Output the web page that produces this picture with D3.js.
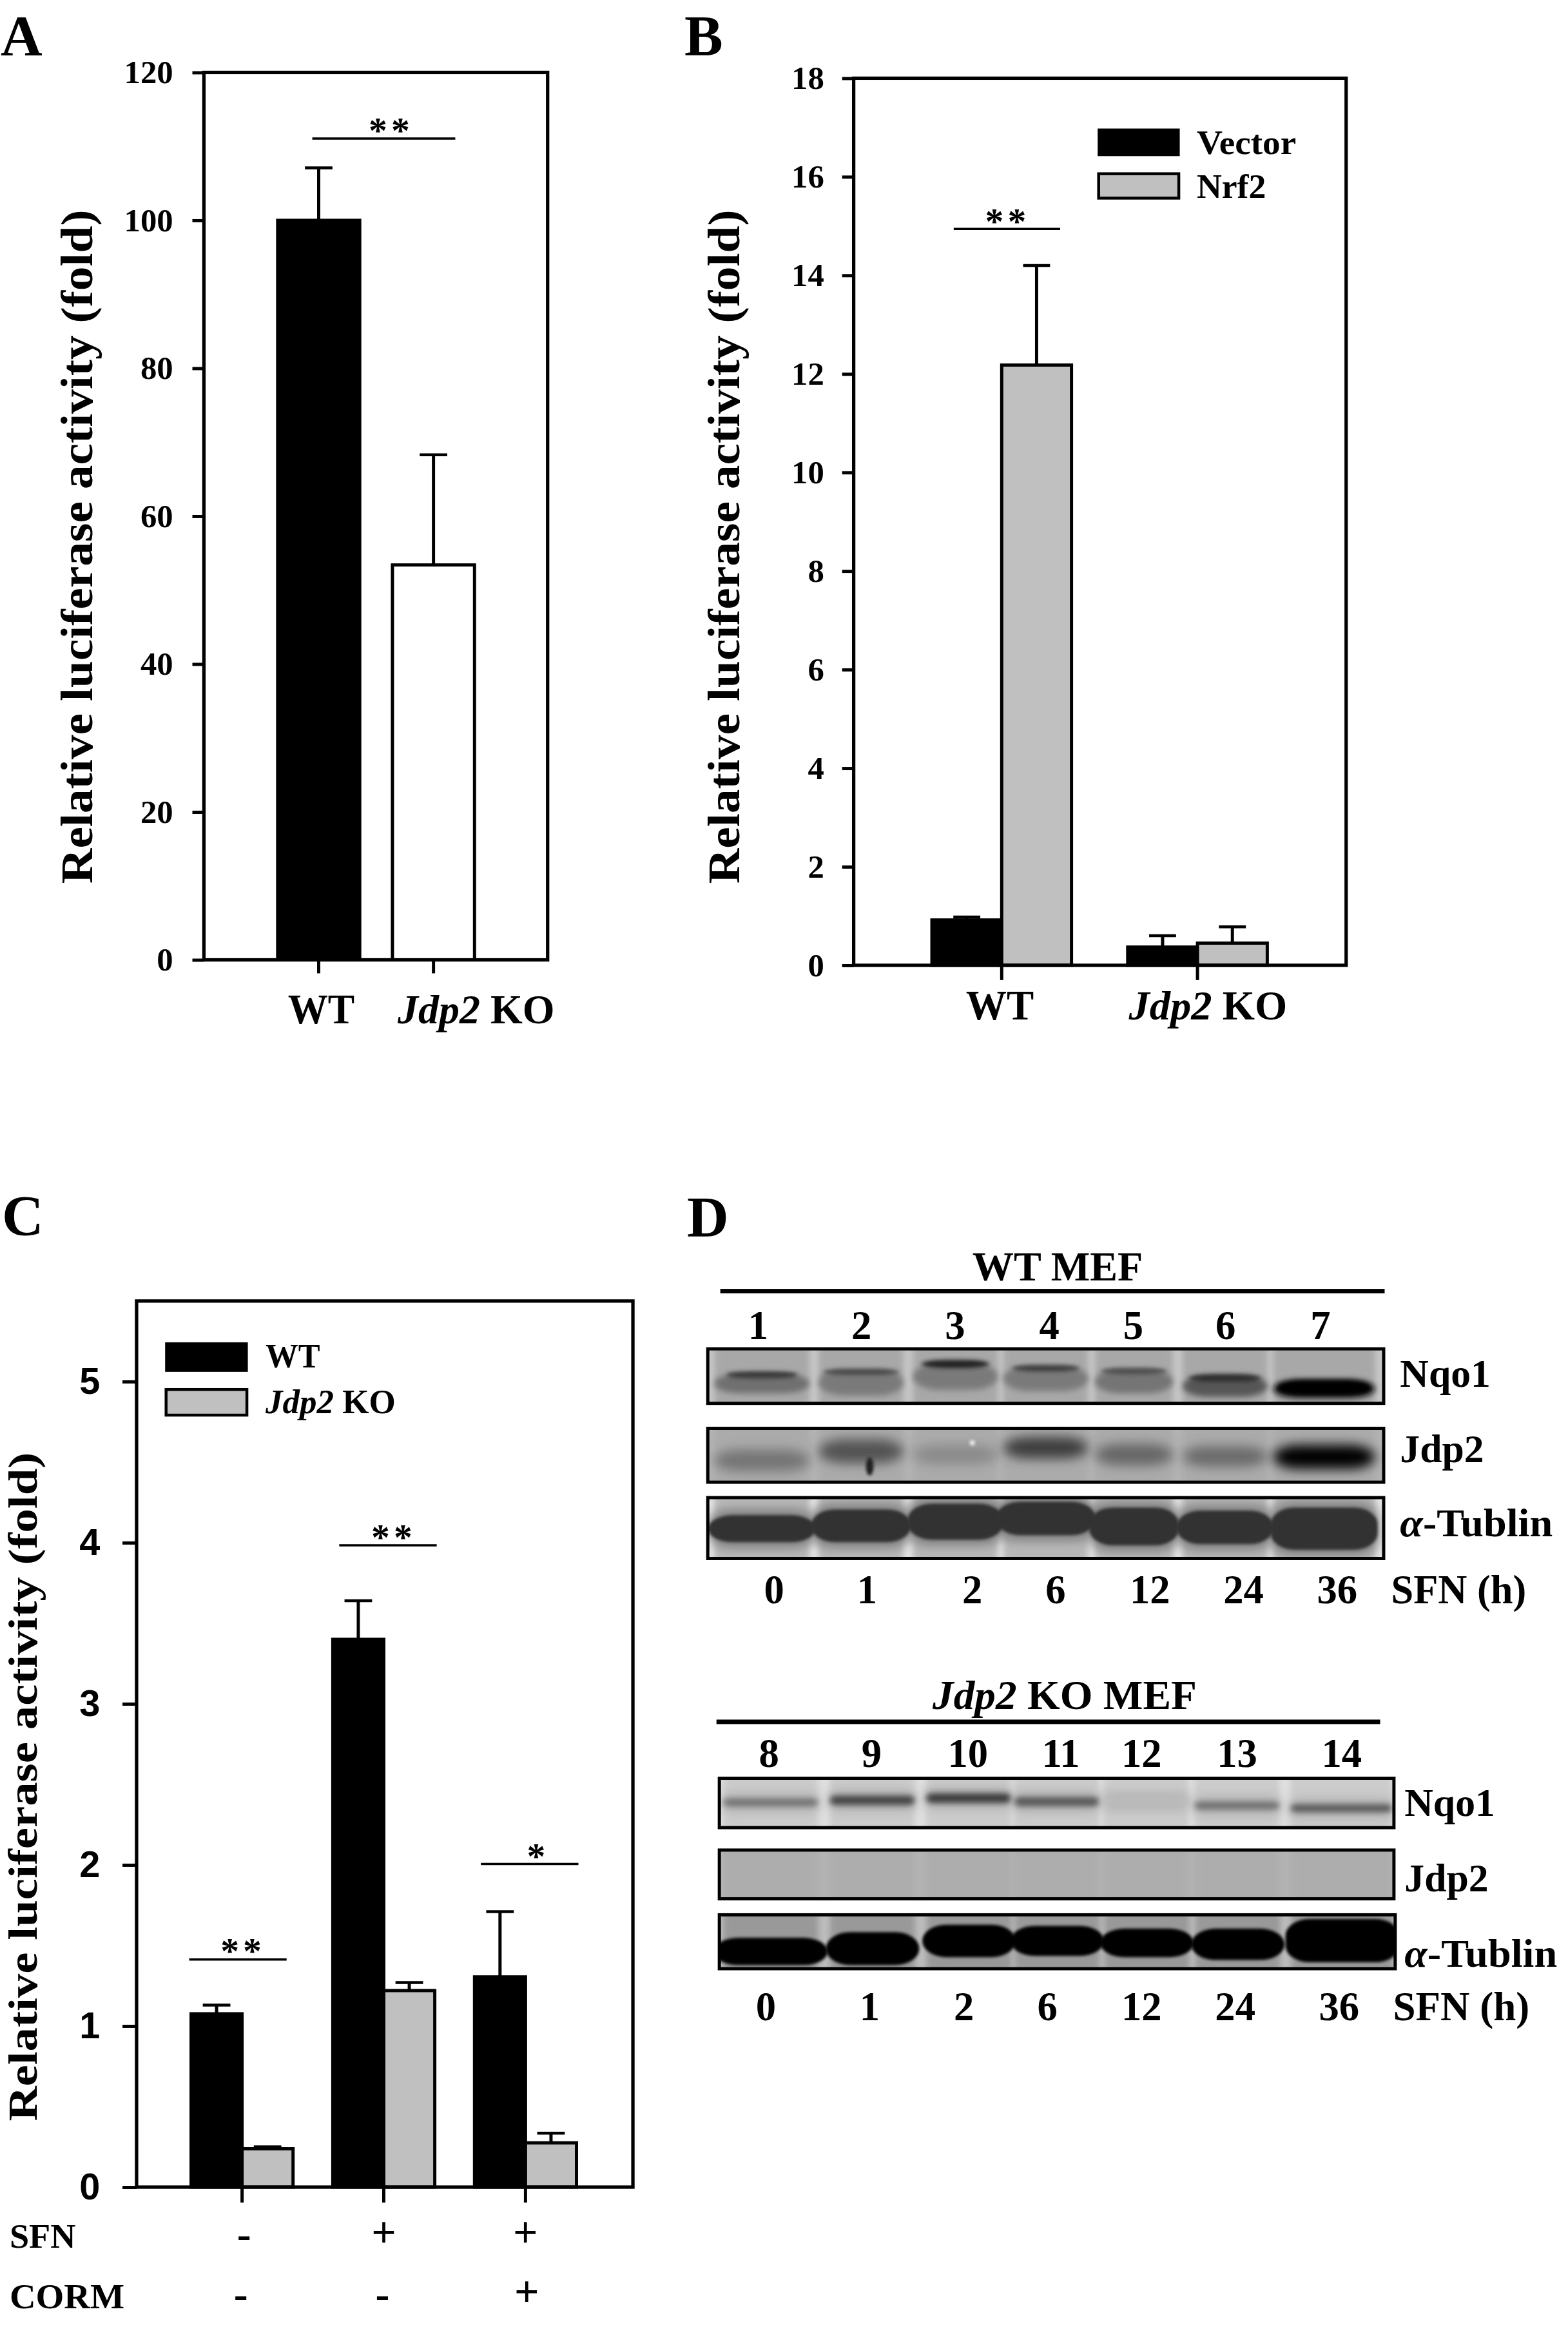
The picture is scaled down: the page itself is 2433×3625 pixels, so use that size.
<!DOCTYPE html>
<html><head><meta charset="utf-8">
<script src="https://cdn.jsdelivr.net/npm/d3@7"></script>
<style>
html,body{margin:0;padding:0;background:#fff}
svg{display:block}
text{font-family:"Liberation Serif",serif;font-weight:bold;fill:#000}
.sans text,text.sans{font-family:"Liberation Sans",sans-serif}
</style></head><body>
<svg id="c" width="2433" height="3625" viewBox="0 0 2433 3625"></svg>
<script>
// ---------- chart data ----------
const aCats=["WT","KO"];
const aValues=[100,53.4];
const aErrors=[107.1,68.3];
const aTicks=[0,20,40,60,80,100,120];

const bCats=["WT","KO"];
const bSeries=["Vector","Nrf2"];
const bVector=[0.92,0.37];
const bVectorErr=[0.98,0.6];
const bNrf2=[12.18,0.45];
const bNrf2Err=[14.2,0.78];
const bTicks=[0,2,4,6,8,10,12,14,16,18];

const cCats=["a","b","c"];
const cSeries=["WT","KO"];
const cWT=[1.076,3.40,1.305];
const cWTErr=[1.13,3.64,1.71];
const cKO=[0.238,1.22,0.275];
const cKOErr=[0.25,1.27,0.335];
const cTicks=[0,1,2,3,4,5];
const cSFN=["-","+","+"];
const cCORM=["-","-","+"];

const yTitle="Relative luciferase activity (fold)";
const wtLanes=["1","2","3","4","5","6","7"];
const koLanes=["8","9","10","11","12","13","14"];
const hours=["0","1","2","6","12","24","36"];

// blot lanes: centre and width as fraction of the blot strip
const wtCenter=[.082,.228,.367,.50,.63,.764,.91];
const wtWidth=[.14,.125,.125,.125,.115,.125,.15];
const koCenter=[.078,.228,.37,.50,.632,.766,.92];
const koWidth=[.14,.125,.125,.125,.125,.125,.15];
// band extents (fraction of strip height) and darkness (0 white .. 1 black)
const wtNqoTop=[.46,.38,.28,.33,.39,.49,.56];
const wtNqoBot=[.80,.84,.74,.76,.80,.86,.88];
const wtNqoDark=[.56,.52,.52,.52,.54,.66,.94];
const wtNqoRimTop=[.42,.38,.22,.31,.36,.47,.58];
const wtNqoRimBot=[.54,.48,.36,.42,.47,.60,.82];
const wtNqoRimDark=[.78,.72,.86,.76,.70,.82,1];
const wtJdpTop=[.40,.22,.32,.18,.30,.34,.32];
const wtJdpBot=[.78,.64,.66,.56,.68,.70,.74];
const wtJdpDark=[.54,.68,.46,.76,.60,.58,1];
const wtTubTop=[.30,.21,.12,.09,.18,.23,.18];
const wtTubBot=[.72,.72,.68,.61,.77,.75,.84];
const koNqoTop=[.42,.36,.32,.39,.41,.48,.53];
const koNqoBot=[.56,.54,.50,.56,.52,.62,.67];
const koNqoDark=[.56,.74,.78,.66,.26,.58,.68];
const koTubTop=[.43,.33,.20,.22,.27,.27,.10];
const koTubBot=[.91,.91,.77,.75,.77,.82,.86];
const tubWtWidthScale=[1.13,1.18,1.13,1.18,1.15,1.15,1.05];
const tubKoWidthScale=[1.2,1.1,1.1,1.1,1.1,1.1,1.12];
const rimWidthScale=[.75,.9,.8,.8,.85,.85,.9];

// ---------- helpers ----------
const svg=d3.select("#c");
const defs=svg.append("defs");
[2,3,5,9].forEach(s=>defs.append("filter").attr("id","b"+s)
  .attr("x","-30%").attr("y","-80%").attr("width","160%").attr("height","260%")
  .append("feGaussianBlur").attr("stdDeviation",s));
const gray=d3.scaleLinear().domain([0,1]).range(["#ffffff","#000000"]);
const panel=(ox,oy)=>svg.append("g").attr("transform",`translate(${ox},${oy}) scale(.995) translate(${-ox},${-oy})`);

function label(g,x,y,parts,size,opt={}){
  const t=g.append("text").attr("x",x).attr("y",y).attr("font-size",size)
    .attr("text-anchor",opt.anchor||"start");
  if(opt.len) t.attr("textLength",opt.len).attr("lengthAdjust","spacingAndGlyphs");
  if(opt.rotate) t.attr("transform",`rotate(-90 ${x} ${y})`);
  parts.forEach(p=>{
    const s=t.append("tspan").text(p.t);
    if(p.i) s.attr("font-style","italic");
  });
  return t;
}
function stars(g,cx,cy,s,size=58){
  label(g,cx,cy+size*.47,[{t:s}],size,{anchor:"middle"}).attr("letter-spacing",s.length>1?6:0);
}
function sig(g,x0,x1,y){
  g.append("line").attr("x1",x0).attr("x2",x1).attr("y1",y).attr("y2",y)
   .attr("stroke","#000").attr("stroke-width",3.5);
}
function frame(g,l,t,r,b,w=5.3){
  g.append("rect").attr("x",l).attr("y",t).attr("width",r-l).attr("height",b-t)
   .attr("fill","none").attr("stroke","#000").attr("stroke-width",w);
}
function yAxis(g,y,x,ticks,tsize,pad,size,sans){
  const a=g.append("g").attr("transform",`translate(${x},0)`)
    .call(d3.axisLeft(y).tickValues(ticks).tickSize(tsize).tickPadding(pad).tickSizeOuter(0).tickFormat(d3.format("d")));
  a.select(".domain").remove();
  a.selectAll("line").attr("stroke","#000").attr("stroke-width",5);
  a.selectAll("text").attr("font-size",size).attr("fill","#000")
   .style("font-family",sans?'"Liberation Sans"':'"Liberation Serif"').style("font-weight","bold");
}
function xAxis(g,x,y,tsize){
  const a=g.append("g").attr("transform",`translate(0,${y})`)
    .call(d3.axisBottom(x).tickSize(tsize).tickFormat("").tickSizeOuter(0));
  a.select(".domain").remove();
  a.selectAll("line").attr("stroke","#000").attr("stroke-width",5);
}
function bars(g,data,capW){
  g.selectAll(null).data(data).join("line")
   .attr("x1",d=>d.x+d.w/2).attr("x2",d=>d.x+d.w/2).attr("y1",d=>d.top).attr("y2",d=>d.err)
   .attr("stroke","#000").attr("stroke-width",5);
  g.selectAll(null).data(data).join("line")
   .attr("x1",d=>d.x+d.w/2-capW/2).attr("x2",d=>d.x+d.w/2+capW/2).attr("y1",d=>d.err).attr("y2",d=>d.err)
   .attr("stroke","#000").attr("stroke-width",4.5);
  g.selectAll(null).data(data).join("rect")
   .attr("x",d=>d.x).attr("y",d=>d.top).attr("width",d=>d.w).attr("height",d=>d.base-d.top)
   .attr("fill",d=>d.fill).attr("stroke","#000").attr("stroke-width",5);
}
const KO=[{t:"Jdp2",i:1},{t:" KO"}];

// ---------- panel A ----------
{
  const g=panel(0,0);
  const y=d3.scaleLinear().domain([0,120]).range([1497,113]);
  const x=d3.scaleBand().domain(aCats).range([433,740]).paddingInner(.285);
  label(g,1,85,[{t:"A"}],90);
  bars(g,aCats.map((c,i)=>({x:x(c),w:x.bandwidth(),top:y(aValues[i]),err:y(aErrors[i]),base:y(0),fill:i?"#fff":"#000"})),43);
  frame(g,318,113,854,1497);
  yAxis(g,y,318,aTicks,18,30,51);
  xAxis(g,x,1497,21);
  sig(g,487,710,216); stars(g,610,196,"**");
  label(g,144,1378,[{t:yTitle}],70,{rotate:1,len:1051});
  label(g,449,1596,[{t:"WT"}],66,{len:104});
  label(g,620,1596,KO,64,{len:245});
}
// ---------- panel B ----------
{
  const g=panel(1050,0);
  const y=d3.scaleLinear().domain([0,18]).range([1505.5,122]);
  const x=d3.scaleBand().domain(bCats).range([1448,1971]).paddingInner(.287);
  const s=d3.scaleBand().domain(bSeries).range([0,x.bandwidth()]);
  label(g,1062,85,[{t:"B"}],90);
  const d=[];
  bCats.forEach((c,i)=>{
    d.push({x:x(c)+s("Vector"),w:s.bandwidth(),top:y(bVector[i]),err:y(bVectorErr[i]),base:y(0),fill:"#000"});
    d.push({x:x(c)+s("Nrf2"),w:s.bandwidth(),top:y(bNrf2[i]),err:y(bNrf2Err[i]),base:y(0),fill:"#c0c0c0"});
  });
  bars(g,d,42);
  frame(g,1326,122,2094,1505.5);
  yAxis(g,y,1326,bTicks,18,28,51);
  xAxis(g,x,1505.5,23);
  sig(g,1482,1648,357); stars(g,1566,338,"**");
  label(g,1147,1378,[{t:yTitle}],70,{rotate:1,len:1051});
  label(g,1501,1590,[{t:"WT"}],66,{len:106});
  label(g,1755,1590,KO,64,{len:247});
  g.append("rect").attr("x",1708).attr("y",202).attr("width",125).attr("height",40).attr("fill","#000").attr("stroke","#000").attr("stroke-width",3);
  g.append("rect").attr("x",1708).attr("y",271).attr("width",125).attr("height",38).attr("fill","#c0c0c0").attr("stroke","#000").attr("stroke-width",4.5);
  label(g,1861,240,[{t:bSeries[0]}],54,{len:155});
  label(g,1861,309,[{t:bSeries[1]}],54,{len:108});
}
// ---------- panel C ----------
{
  const g=panel(0,1800);
  const y=d3.scaleLinear().domain([0,5.5]).range([3402,2020]);
  const x=d3.scaleBand().domain(cCats).range([298,899]).paddingInner(.2805);
  const s=d3.scaleBand().domain(cSeries).range([0,x.bandwidth()]);
  label(g,3,1917,[{t:"C"}],90);
  const d=[];
  cCats.forEach((c,i)=>{
    d.push({x:x(c)+s("WT"),w:s.bandwidth(),top:y(cWT[i]),err:y(cWTErr[i]),base:y(0),fill:"#000"});
    d.push({x:x(c)+s("KO"),w:s.bandwidth(),top:y(cKO[i]),err:y(cKOErr[i]),base:y(0),fill:"#c0c0c0"});
  });
  bars(g,d,43);
  frame(g,213,2020,987,3402);
  yAxis(g,y,213,cTicks,22,35,58,true);
  xAxis(g,x,3402,24);
  sig(g,295,447,3047); stars(g,379,3026,"**");
  sig(g,529,681,2401); stars(g,614,2381,"**");
  sig(g,750,902,2898); stars(g,836,2878,"*");
  label(g,57,3299,[{t:yTitle}],64,{rotate:1,len:1043});
  g.append("rect").attr("x",259).attr("y",2086).attr("width",126).attr("height",43).attr("fill","#000").attr("stroke","#000").attr("stroke-width",3);
  g.append("rect").attr("x",259).attr("y",2158).attr("width",126).attr("height",40).attr("fill","#c0c0c0").attr("stroke","#000").attr("stroke-width",4.5);
  label(g,414,2124,[{t:"WT"}],54,{len:85});
  label(g,414,2195,KO,53,{len:203});
  label(g,15,3496,[{t:"SFN"}],54,{len:103});
  label(g,15,3591,[{t:"CORM"}],56,{len:179});
  cCats.forEach((c,i)=>{
    const cx=x(c)+x.bandwidth()/2;
    const dx=i?0:3;
    label(g,cx+dx,cSFN[i]==="+"?3495:3497,[{t:cSFN[i]}],cSFN[i]==="+"?68:66,{anchor:"middle"});
    label(g,cx+(i===2?2:-2),cCORM[i]==="+"?3588:3591,[{t:cCORM[i]}],cCORM[i]==="+"?68:66,{anchor:"middle"});
  });
}
// ---------- panel D ----------
function blot(g,box,bg,lane,layers,center,width){
  const id="clip"+box.y0;
  const W=box.x1-box.x0-5,H=box.y1-box.y0-5,X=box.x0+2.5,Y=box.y0+2.5;
  defs.append("clipPath").attr("id",id).append("rect").attr("x",X).attr("y",Y).attr("width",W).attr("height",H);
  const x=d3.scaleLinear().domain([0,1]).range([box.x0,box.x1]);
  const y=d3.scaleLinear().domain([0,1]).range([box.y0,box.y1]);
  const p=g.append("g").attr("clip-path",`url(#${id})`);
  p.append("rect").attr("x",X).attr("y",Y).attr("width",W).attr("height",H).attr("fill",gray(bg));
  p.selectAll(null).data(center).join("rect")
    .attr("x",(c,i)=>x(c-width[i]/2)).attr("width",(c,i)=>x(width[i])-x(0))
    .attr("y",box.y0-30).attr("height",box.y1-box.y0+60)
    .attr("fill",gray(lane)).attr("filter","url(#b5)");
  layers.forEach(L=>{
    const pad=L.pad||0;
    p.selectAll(null).data(center).join("rect")
      .attr("x",(c,i)=>x(c-(L.w?L.w[i]:1)*width[i]/2))
      .attr("width",(c,i)=>x((L.w?L.w[i]:1)*width[i])-x(0))
      .attr("y",(c,i)=>y(L.top[i]-pad))
      .attr("height",(c,i)=>y(L.bot[i]+pad)-y(L.top[i]-pad))
      .attr("rx",L.rx||14).attr("ry",L.ry||14)
      .attr("fill",(c,i)=>gray(L.dark.length?L.dark[i]:L.dark))
      .attr("filter",`url(#b${L.blur})`);
  });
  frame(g,X,Y,X+W,Y+H,5);
  return p;
}
const box=(y0,y1,x0,x1)=>({x0,x1,y0,y1});
{
  const g=panel(1050,1820);
  label(g,1066,1918,[{t:"D"}],90);
  label(g,1511,1988,[{t:"WT MEF"}],64,{len:266});
  g.append("rect").attr("x",1118).attr("y",2001).attr("width",1036).attr("height",7);
  const n1=d3.scaleOrdinal().domain(wtLanes).range([1177,1338,1484,1631,1762,1906,2054]);
  wtLanes.forEach(n=>label(g,n1(n),2079,[{t:n}],63,{anchor:"middle"}));
  blot(g,box(2092,2182,1096,2155),.22,.34,[
    {top:wtNqoTop,bot:wtNqoBot,dark:wtNqoDark,blur:5,rx:40,ry:22},
    {top:wtNqoRimTop,bot:wtNqoRimBot,dark:wtNqoRimDark,blur:3,rx:40,ry:10,w:rimWidthScale}],wtCenter,wtWidth);
  const j=blot(g,box(2216,2305,1096,2155),.30,.33,[
    {top:wtJdpTop,bot:wtJdpBot,dark:wtJdpDark,blur:9,rx:40,ry:20}],wtCenter,wtWidth);
  j.append("circle").attr("cx",1511).attr("cy",2241).attr("r",4).attr("fill","#eee").attr("filter","url(#b2)");
  j.append("ellipse").attr("cx",1351).attr("cy",2278).attr("rx",6).attr("ry",14).attr("fill","#222").attr("filter","url(#b2)");
  blot(g,box(2324,2424,1096,2155),.10,.28,[
    {top:wtTubTop,bot:wtTubBot,dark:.52,blur:9,w:tubWtWidthScale,rx:34,ry:24,pad:.08},
    {top:wtTubTop,bot:wtTubBot,dark:.80,blur:2,w:tubWtWidthScale,rx:38,ry:26}],wtCenter,wtWidth);
  label(g,2178,2154,[{t:"Nqo1"}],62);
  label(g,2178,2271,[{t:"Jdp2"}],62);
  label(g,2178,2387,[{t:"α",i:1},{t:"-Tublin"}],62,{len:238});
  const t1=d3.scaleOrdinal().domain(hours).range([1202,1347,1511,1641,1788,1934,2080]);
  hours.forEach(h=>label(g,t1(h),2491,[{t:h}],63,{anchor:"middle"}));
  label(g,2164,2491,[{t:"SFN (h)"}],63,{len:211});
}
{
  const g=panel(1050,2560);
  label(g,1449,2652,[{t:"Jdp2",i:1},{t:" KO MEF"}],64,{len:412});
  g.append("rect").attr("x",1112).attr("y",2669).attr("width",1035).attr("height",7);
  const n2=d3.scaleOrdinal().domain(koLanes).range([1194,1354,1504,1649,1775,1924,2087]);
  koLanes.forEach(n=>label(g,n2(n),2743,[{t:n}],63,{anchor:"middle"}));
  blot(g,box(2758,2840,1114,2171),.12,.20,[
    {top:koNqoTop,bot:koNqoBot,dark:.30,blur:9,rx:8,ry:8,pad:.12},
    {top:koNqoTop,bot:koNqoBot,dark:koNqoDark,blur:5,rx:8,ry:8}],koCenter,koWidth);
  blot(g,box(2870,2951,1114,2171),.30,.32,[],koCenter,koWidth);
  blot(g,box(2971,3060,1114,2173),.26,.40,[
    {top:koTubTop,bot:koTubBot,dark:1,blur:2,w:tubKoWidthScale,rx:38,ry:26}],koCenter,koWidth);
  label(g,2185,2819,[{t:"Nqo1"}],62);
  label(g,2185,2937,[{t:"Jdp2"}],62);
  label(g,2185,3054,[{t:"α",i:1},{t:"-Tublin"}],62,{len:238});
  const t2=d3.scaleOrdinal().domain(hours).range([1189,1351,1498,1628,1775,1921,2083]);
  hours.forEach(h=>label(g,t2(h),3138,[{t:h}],63,{anchor:"middle"}));
  label(g,2167,3138,[{t:"SFN (h)"}],63,{len:213});
}
</script></body></html>
